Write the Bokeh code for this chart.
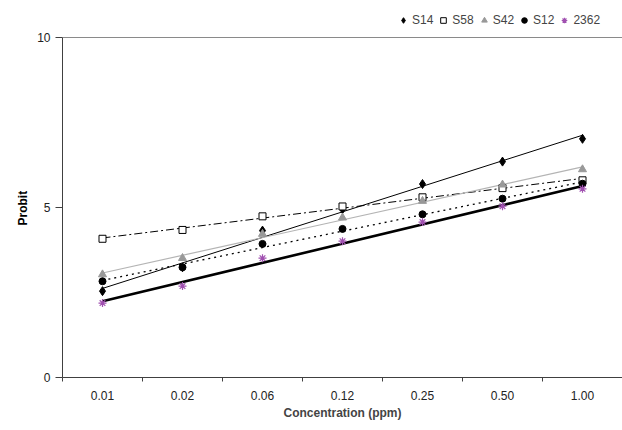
import numpy as np
from bokeh.plotting import figure
from bokeh.models import Range1d, FixedTicker, Legend, LegendItem, Title
from bokeh.embed import file_html
from bokeh.resources import INLINE

conc_labels = ["0.01", "0.02", "0.06", "0.12", "0.25", "0.50", "1.00"]
s14 = [2.54, 3.24, 4.32, 4.95, 5.69, 6.35, 7.02]
s58 = [4.08, 4.34, 4.74, 5.03, 5.30, 5.57, 5.80]
s42 = [3.03, 3.51, 4.22, 4.70, 5.19, 5.67, 6.12]
s12 = [2.83, 3.24, 3.93, 4.37, 4.80, 5.26, 5.70]
s2362 = [2.19, 2.69, 3.51, 4.01, 4.57, 5.04, 5.55]
y_ticks = [0, 5, 10]

xs = list(range(1, len(conc_labels) + 1))
FONT = "Liberation Sans"

# frame spans the whole top so the legend (drawn inside the frame) is visible;
# the y axis line is bounded to 0..10
p = figure(width=622, height=430, output_backend="svg", toolbar_location=None,
           x_range=Range1d(0.5, 7.5), y_range=Range1d(0, 377 / 34),
           min_border_left=62, min_border_right=0, min_border_top=0,
           min_border_bottom=53)
p.outline_line_color = None
p.background_fill_color = "white"
p.xgrid.visible = False
p.ygrid.ticker = FixedTicker(ticks=[10])
p.ygrid.grid_line_color = "#8a8a8a"

# x axis
p.xaxis.ticker = FixedTicker(ticks=xs, minor_ticks=[x - 0.5 for x in xs] + [7.5])
p.xaxis.major_label_overrides = {x: l for x, l in zip(xs, conc_labels)}
p.xaxis.major_tick_line_color = None
p.xaxis.major_tick_out = 0
p.xaxis.major_tick_in = 0
p.xaxis.minor_tick_out = 4
p.xaxis.minor_tick_in = 0
p.xaxis.minor_tick_line_color = "#404040"
p.xaxis.axis_line_color = "#404040"
p.xaxis.major_label_text_font = FONT
p.xaxis.major_label_text_font_size = "12px"
p.xaxis.major_label_text_color = "#222222"
p.xaxis.major_label_standoff = 9
p.xaxis.axis_label = "Concentration (ppm)"
p.xaxis.axis_label_text_font = FONT
p.xaxis.axis_label_text_font_size = "12px"
p.xaxis.axis_label_text_font_style = "bold"
p.xaxis.axis_label_standoff = 3

# y axis
p.yaxis.ticker = FixedTicker(ticks=y_ticks)
p.yaxis.bounds = (0, 10)
p.yaxis.minor_tick_line_color = None
p.yaxis.major_tick_out = 7
p.yaxis.major_tick_in = 0
p.yaxis.major_tick_line_color = "#404040"
p.yaxis.axis_line_color = "#404040"
p.yaxis.major_label_text_font = FONT
p.yaxis.major_label_text_font_size = "12px"
p.yaxis.major_label_text_color = "#222222"
p.yaxis.major_label_standoff = 5

# y axis title, centred on the 0..10 part of the axis
p.add_layout(Title(text="Probit", align="left", offset=152,
                   text_font=FONT, text_font_size="12px", text_font_style="bold",
                   text_color="black"), "left")


def trend(vals):
    k, b = np.polyfit(xs, vals, 1)
    return [xs[0], xs[-1]], [k * xs[0] + b, k * xs[-1] + b]

series = [
    ("S14", s14, dict(line_color="black", line_width=1), dict(marker="diamond", size=9, fill_color="black", line_color="black")),
    ("S58", s58, dict(line_color="black", line_width=1, line_dash="8 3 2 3"), dict(marker="square", size=7, fill_color="white", line_color="black")),
    ("S42", s42, dict(line_color="#b4b4b4", line_width=1.2), dict(marker="triangle", size=8, fill_color="#999999", line_color="#999999")),
    ("S12", s12, dict(line_color="black", line_width=1.3, line_dash="2 4"), dict(marker="circle", size=7, fill_color="black", line_color="black")),
    ("2362", s2362, dict(line_color="black", line_width=2.6), dict(marker="asterisk", size=8, fill_color=None, line_color="#a050b0", line_width=1.2)),
]

items = []
for name, vals, lkw, mkw in series:
    tx, ty = trend(vals)
    p.line(tx, ty, **lkw)
for name, vals, lkw, mkw in series:
    r = p.scatter(xs, vals, **mkw)
    items.append(LegendItem(label=name, renderers=[r]))

legend = Legend(items=items, orientation="horizontal", location=(334, 350),
                border_line_color=None, background_fill_alpha=0,
                label_text_font=FONT, label_text_font_size="12px",
                glyph_width=14, glyph_height=14, label_standoff=2, spacing=3,
                padding=0, margin=0, label_height=12)
p.add_layout(legend, "center")

open("out.html", "w").write(file_html(p, INLINE))
